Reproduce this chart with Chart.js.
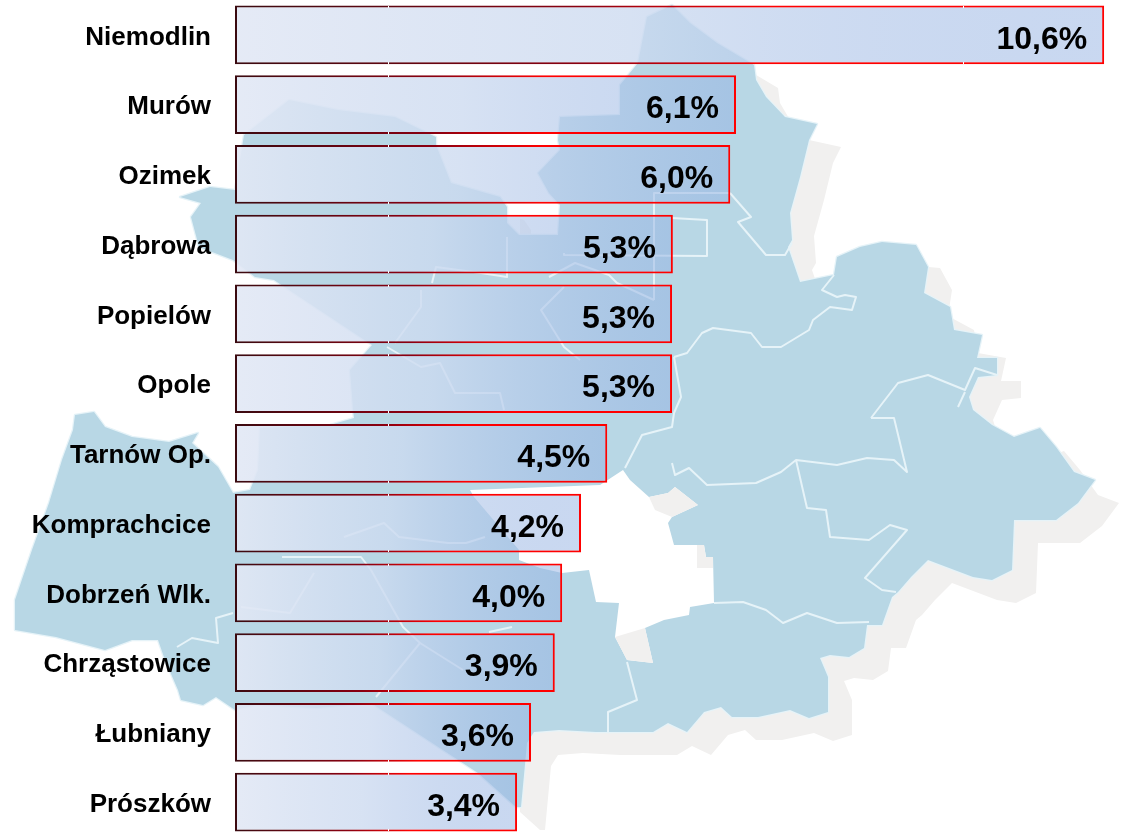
<!DOCTYPE html>
<html><head><meta charset="utf-8">
<script src="https://cdn.jsdelivr.net/npm/chart.js@4"></script>
<style>html,body{margin:0;padding:0;background:#fff;overflow:hidden;width:1130px;height:832px}
#w{position:relative;width:1130px;height:837px}</style></head>
<body><div id="w"><canvas id="c" width="1130" height="837"></canvas></div>
<script>
const categories=["Niemodlin","Murów","Ozimek","Dąbrowa","Popielów","Opole","Tarnów Op.","Komprachcice","Dobrzeń Wlk.","Chrząstowice","Łubniany","Prószków"];
const shares=[10.6,6.11,6.04,5.34,5.33,5.33,4.54,4.22,3.99,3.9,3.61,3.44];
const gridBreaks=[1.86,8.88];

// decorative backdrop: regional map silhouette
const mapOutline=[[672,5],[690,23],[717,43],[754,65],[756,80],[766,97],[785,117],[817,124],[809,140],[800,177],[790,213],[792,240],[788,247],[800,282],[834,275],[837,257],[860,247],[882,242],[916,245],[928,267],[924,293],[950,307],[954,330],[982,335],[977,358],[997,358],[997,375],[978,377],[969,397],[973,410],[992,425],[1014,437],[1040,428],[1056,447],[1074,472],[1095,480],[1078,503],[1056,520],[1014,520],[1012,570],[992,580],[973,577],[928,560],[911,577],[898,592],[892,597],[882,625],[867,625],[864,648],[849,657],[830,655],[820,658],[828,677],[828,712],[809,718],[790,710],[758,717],[732,717],[721,707],[704,712],[687,732],[668,723],[653,732],[608,732],[596,732],[559,730],[534,732],[527,743],[521,807],[516,807],[478,773],[371,703],[316,708],[256,705],[235,710],[216,697],[203,705],[181,700],[178,690],[165,660],[158,640],[132,640],[105,650],[56,637],[15,630],[15,600],[32,550],[49,503],[62,460],[73,430],[75,415],[94,412],[105,427],[132,437],[169,442],[198,433],[192,443],[218,467],[233,493],[250,490],[258,470],[260,428],[330,425],[354,418],[353,410],[350,370],[372,345],[289,290],[274,280],[255,277],[233,260],[199,247],[191,217],[201,203],[180,197],[210,187],[235,190],[244,135],[289,100],[338,110],[395,117],[436,137],[436,145],[451,183],[500,197],[507,207],[507,223],[519,235],[558,235],[560,205],[549,193],[538,173],[560,150],[558,140],[560,117],[620,115],[620,85],[638,63],[647,17]];
const mapBay=[[623,470],[630,480],[649,497],[668,493],[675,487],[698,505],[672,517],[668,523],[674,545],[704,545],[706,557],[713,557],[714,603],[690,607],[689,615],[664,620],[645,628],[653,663],[627,660],[615,637],[619,603],[596,602],[589,570],[562,573],[540,568],[519,560],[519,550],[474,497],[470,490],[600,485]];
const bayShade=[[[649,497],[668,493],[675,487],[698,505],[672,517],[655,510]],[[704,545],[706,557],[713,557],[713,568],[697,568],[697,545]],[[615,637],[645,628],[653,663],[627,660]]];
const mapLines=[
 [[730,193],[751,217],[738,222],[766,255],[785,255],[792,243]],
 [[654,300],[654,193],[730,193]],
 [[564,253],[564,255],[707,256],[707,220],[672,218]],
 [[674,357],[687,353],[702,333],[713,328],[751,333],[762,347],[781,347],[809,330],[813,320],[830,307],[852,310],[856,297],[845,295],[837,297],[822,290],[834,275]],
 [[871,418],[898,383],[928,375],[965,390],[975,368],[997,375]],
 [[965,392],[958,407]],
 [[871,418],[894,418],[907,472],[894,460],[867,458],[837,465],[796,460],[781,472],[756,483],[707,485],[689,468],[675,475],[672,463]],
 [[796,460],[807,508],[826,510],[830,537],[869,540],[890,525],[907,530],[865,578],[882,590],[896,592]],
 [[714,603],[743,602],[766,610],[783,623],[807,613],[837,623],[869,622]],
 [[674,357],[681,397],[674,413],[672,427],[642,435],[625,468]],
 [[627,662],[637,700],[608,712],[608,732]],
 [[489,632],[512,627]],
 [[233,613],[216,618],[218,643],[192,638],[177,647]],
 [[376,697],[420,643],[403,627],[371,570],[361,557],[282,557]],
 [[314,573],[290,613],[241,607]],
 [[420,643],[463,670]],
 [[344,537],[384,523],[399,537],[448,543],[466,543],[485,537]],
 [[432,283],[436,267],[481,273],[507,277],[507,237]],
 [[549,277],[575,263],[609,275],[617,283],[654,300]],
 [[564,287],[541,310],[564,347],[580,360]],
 [[421,290],[421,307],[395,343]],
 [[387,347],[421,367],[440,363],[455,393],[500,393],[504,410]]
];
function trace(ctx,pts,dx,dy){ctx.beginPath();pts.forEach((p,i)=>i?ctx.lineTo(p[0]+dx,p[1]+dy):ctx.moveTo(p[0]+dx,p[1]+dy));}

const backdrop={id:'backdrop',beforeDraw(chart){
  const ctx=chart.ctx;ctx.save();
  ctx.fillStyle='#fff';ctx.fillRect(0,0,chart.width,chart.height);
  ctx.save();ctx.beginPath();ctx.rect(520,0,chart.width,chart.height);ctx.clip();
  ctx.fillStyle='#f1f0ef';trace(ctx,mapOutline,24,23);ctx.closePath();ctx.fill();
  ctx.restore();
  ctx.lineJoin='round';
  ctx.fillStyle='#b8d7e5';ctx.strokeStyle='#e6f3f8';ctx.lineWidth=2.5;
  trace(ctx,mapOutline,0,0);ctx.closePath();ctx.stroke();ctx.fill();
  ctx.fillStyle='#fff';trace(ctx,mapBay,0,0);ctx.closePath();ctx.fill();
  ctx.fillStyle='#f1f0ef';
  bayShade.forEach(p=>{trace(ctx,p,0,0);ctx.closePath();ctx.fill();});
  ctx.strokeStyle='#e6f3f8';ctx.lineWidth=2;
  mapLines.forEach(l=>{trace(ctx,l,0,0);ctx.stroke();});
  ctx.restore();
}};

const finish={id:'finish',afterDatasetsDraw(chart){
  const ctx=chart.ctx,x=chart.scales.x,bars=chart.getDatasetMeta(0).data;
  ctx.save();
  bars.forEach((b,i)=>{
    const top=Math.round(b.y-b.height/2),bot=Math.round(b.y+b.height/2);
    ctx.fillStyle='#fff';
    gridBreaks.forEach(g=>{ if(g<shares[i]){const px=Math.round(x.getPixelForValue(g));ctx.fillRect(px,top,1,2);ctx.fillRect(px,bot-2,1,2);} });
    ctx.fillStyle='#000';ctx.font='bold 32px "Liberation Sans", Arial, sans-serif';
    ctx.textAlign='right';ctx.textBaseline='middle';
    ctx.fillText(shares[i].toFixed(1).replace('.',',')+'%',b.x-17,b.y+5);
  });
  ctx.restore();
}};

function grad(c,stops){
  const chart=c.chart,x=chart.scales.x;
  if(!x||x.left===undefined)return stops[0][1];
  const x0=x.getPixelForValue(0),x1=x.getPixelForValue(shares[c.dataIndex]);
  const g=chart.ctx.createLinearGradient(x0,0,x1,0);
  stops.forEach(s=>g.addColorStop(s[0],s[1]));
  return g;
}
new Chart(document.getElementById('c'),{
  type:'bar',
  data:{labels:categories,datasets:[{data:shares,
    barPercentage:.84,categoryPercentage:1,borderWidth:2,borderSkipped:false,
    backgroundColor:c=>grad(c,[[0,'rgba(226,232,245,.9)'],[.45,'rgba(204,218,240,.78)'],[1,'rgba(147,177,226,.5)']]),
    borderColor:c=>grad(c,[[0,'#3a0a10'],[.4,'#8a0010'],[.62,'#ff0000'],[1,'#ff0000']])
  }]},
  options:{indexAxis:'y',responsive:false,animation:false,devicePixelRatio:1,
    layout:{padding:0,autoPadding:false},
    plugins:{legend:{display:false},tooltip:{enabled:false},title:{display:false}},
    scales:{
      x:{type:'linear',min:0,max:10.915,display:false},
      y:{position:'left',grid:{display:false,drawTicks:false},border:{display:false},
         afterFit(s){s.width=235;s.paddingTop=0;s.paddingBottom=0;},
         ticks:{padding:24,labelOffset:2.5,color:'#000',autoSkip:false,font:{family:'"Liberation Sans", Arial, sans-serif',weight:'bold',size:26}}}
    }},
  plugins:[backdrop,finish]
});
</script></body></html>
